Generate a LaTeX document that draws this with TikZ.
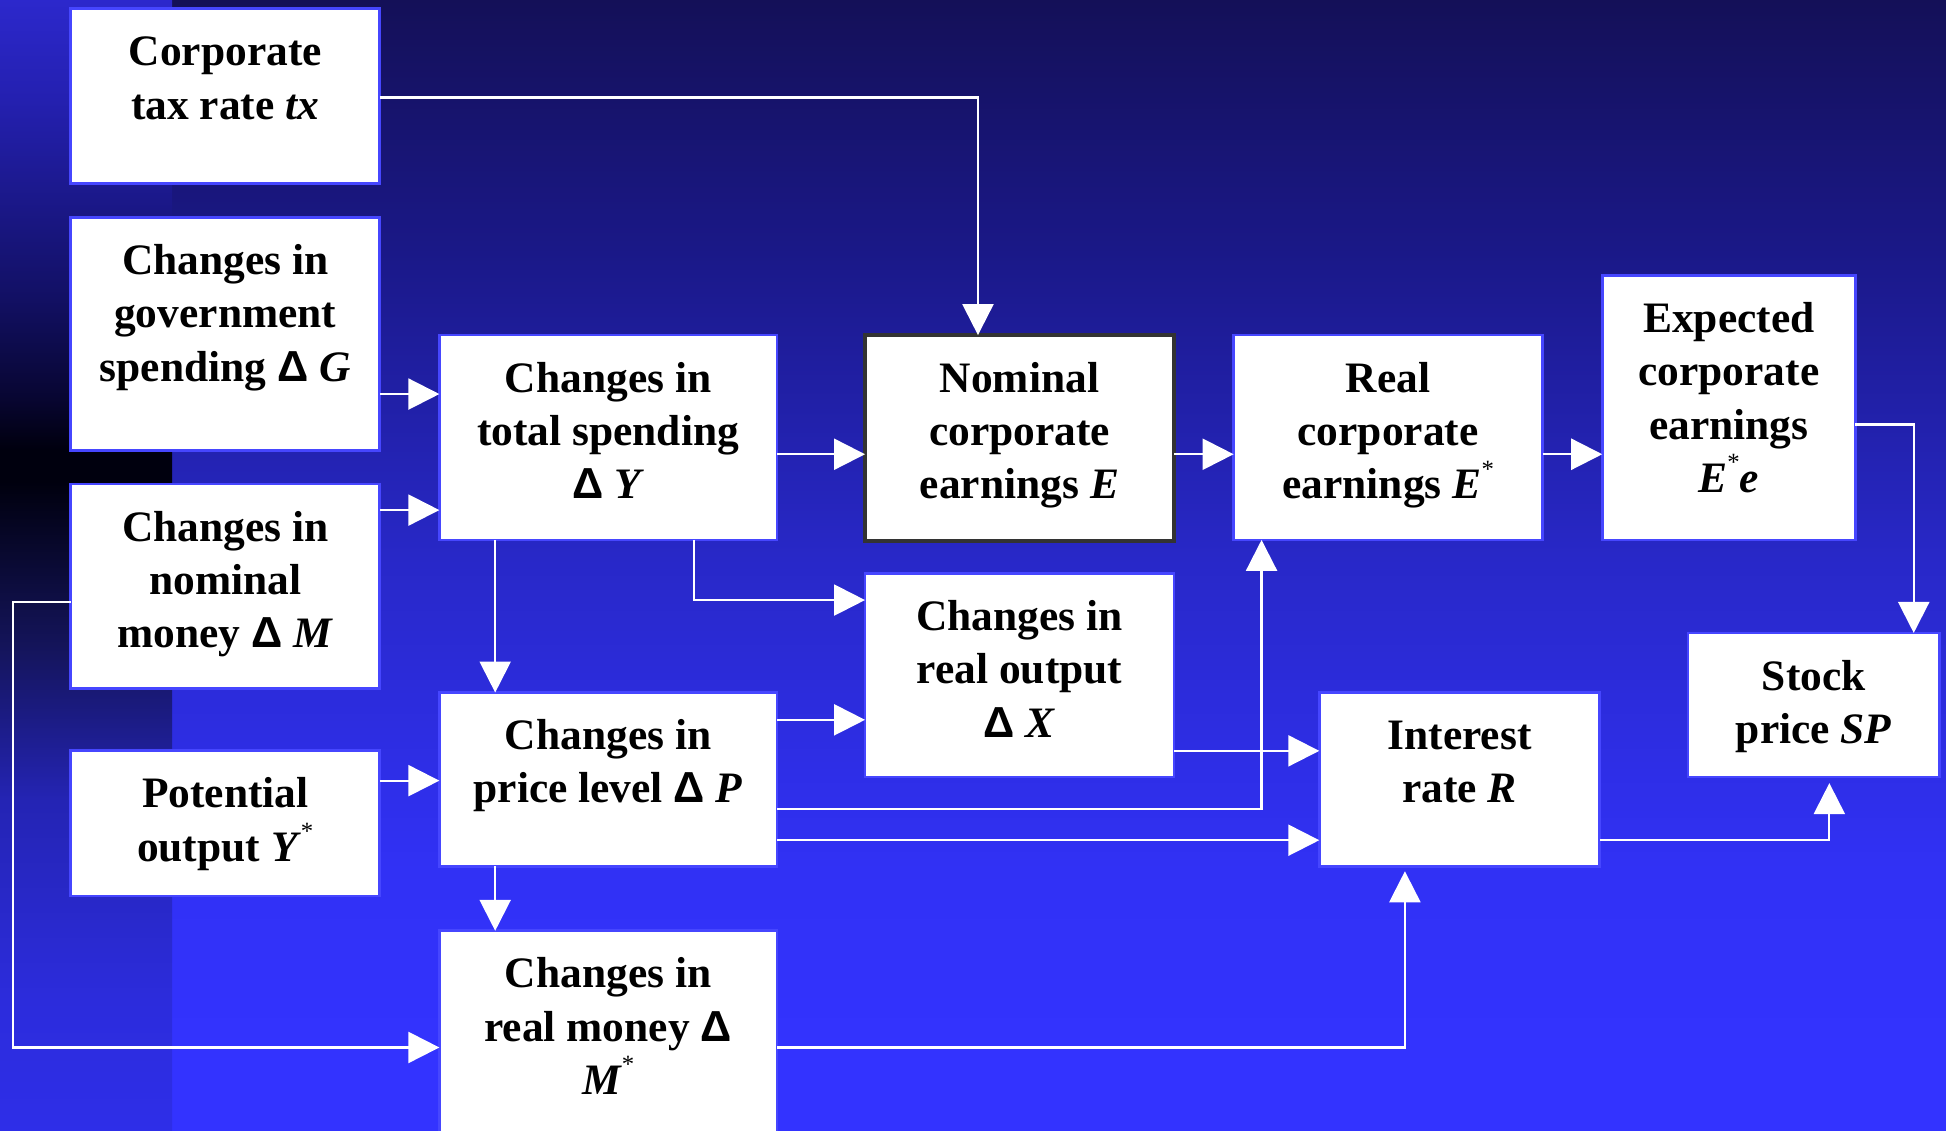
\documentclass[tikz,border=0pt]{standalone}
\usepackage{fontspec}
\setmainfont{Liberation Serif}
\newfontfamily\deltafont{Liberation Sans}
\usetikzlibrary{arrows.meta}
\newdimen\ppx \ppx=0.5pt
\newcommand{\bt}[3]{\parbox[c][#2\ppx][t]{#1\ppx}{\centering\rule{0pt}{23pt}#3}}
\newcommand{\D}{{\deltafont Δ}}
\newcommand{\sr}{\raisebox{0.5em}{\fontsize{10pt}{10pt}\selectfont\mdseries *}}
\newcommand{\boxfont}{\fontsize{17.5pt}{21.5pt}\selectfont\bfseries}
% background colours
\definecolor{m0}{RGB}{20,16,88}
\definecolor{m1}{RGB}{26,24,135}
\definecolor{m2}{RGB}{40,40,200}
\definecolor{m3}{RGB}{49,49,245}
\definecolor{m4}{RGB}{51,51,255}
\definecolor{s0}{RGB}{44,40,204}
\definecolor{s1}{RGB}{36,32,176}
\definecolor{s2}{RGB}{18,16,100}
\definecolor{s3}{RGB}{8,6,50}
\definecolor{s4}{RGB}{0,0,14}
\definecolor{s6}{RGB}{20,20,90}
\definecolor{s7}{RGB}{36,36,180}
\definecolor{s8}{RGB}{44,44,220}
\definecolor{s9}{RGB}{46,46,232}
\definecolor{boxblue}{RGB}{70,70,255}
\definecolor{darkedge}{RGB}{51,51,51}
\pgfdeclareverticalshading{mainbg}{100bp}{color(0bp)=(m4); color(25bp)=(m4); color(27.8bp)=(m4); color(36.58bp)=(m3); color(50.3bp)=(m2); color(64.02bp)=(m1); color(75bp)=(m0); color(100bp)=(m0)}
\pgfdeclareverticalshading{stripbg}{100bp}{color(0bp)=(s9); color(25bp)=(s9); color(30.76bp)=(s8); color(39.6bp)=(s7); color(46.46bp)=(s6); color(53.7bp)=(s4); color(55.13bp)=(s4); color(57.44bp)=(s3); color(61.83bp)=(s2); color(70.61bp)=(s1); color(75bp)=(s0); color(100bp)=(s0)}
\tikzset{
  box/.style={draw=boxblue, line width=1.1pt, fill=white, inner sep=0pt, outer sep=0pt, font=\boxfont, text=black},
  darkbox/.style={box, draw=darkedge, line width=1.4pt},
  conn/.style={draw=white, line width=0.9pt, -{Triangle[length=12.5pt,width=12.5pt]}},
}
\begin{document}
\begin{tikzpicture}[x=0.5pt, y=-0.5pt]
\useasboundingbox (0,0) rectangle (1568,911);
\clip (0,0) rectangle (1568,911);
\shade[shading=mainbg] (0,0) rectangle (1568,911);
\shade[shading=stripbg] (0,0) rectangle (138.6,911);

% boxes
\node[box] (A) at (181.5,77.5) {\bt{249}{141}{Corporate\\tax rate \textit{tx}}};
\node[box] (B) at (181.5,269) {\bt{249}{188}{Changes in\\government\\spending \D\ \textit{G}}};
\node[box] (C) at (181.5,472.5) {\bt{249}{165}{Changes in\\nominal\\money \D\ \textit{M}}};
\node[box] (D) at (181.5,663.5) {\bt{249}{117}{Potential\\output \textit{Y}\sr}};
\node[box] (E) at (490,352.5) {\bt{272}{165}{Changes in\\total spending\\\D\ \textit{Y}}};
\node[box] (F) at (490,628) {\bt{272}{140}{Changes in\\price level \D\ \textit{P}}};
\node[box] (G) at (490,855) {\bt{272}{210}{Changes in\\real money \D\\\textit{M}\sr}};
\node[darkbox] (H) at (821.5,353) {\bt{249}{166}{Nominal\\corporate\\earnings \textit{E}}};
\node[box] (I) at (821.5,544) {\bt{249}{164}{Changes in\\real output\\\D\ \textit{X}}};
\node[box] (J) at (1118.5,352.5) {\bt{249}{165}{Real\\corporate\\earnings \textit{E}\sr}};
\node[box] (K) at (1393,328.5) {\bt{204}{213}{Expected\\corporate\\earnings\\\textit{E}\sr\textit{e}}};
\node[box] (L) at (1176,628) {\bt{226}{140}{Interest\\rate \textit{R}}};
\node[box] (M) at (1461.5,568) {\bt{203}{116}{Stock\\price \textit{SP}}};

% routing coordinates
\coordinate (k1) at (788,78.5);
\coordinate (k2) at (0,317.5);
\coordinate (k3) at (0,411);
\coordinate (k4) at (0,629);
\coordinate (k5a) at (10.5,485);
\coordinate (k5b) at (10.5,844);
\coordinate (k6) at (399,0);
\coordinate (k7) at (559,483.5);
\coordinate (k8) at (0,366);
\coordinate (k9) at (0,580);
\coordinate (k10) at (1016.5,652);
\coordinate (k11) at (0,677);
\coordinate (k13) at (0,605);
\coordinate (k14) at (1132,844);
\coordinate (k17) at (1542,342);
\coordinate (k18) at (1474,677);

% connectors
\draw[conn] (A.east |- k1) -| (H.north -| k1);
\draw[conn] (B.east |- k2) -- (E.west |- k2);
\draw[conn] (C.east |- k3) -- (E.west |- k3);
\draw[conn] (D.east |- k4) -- (F.west |- k4);
\draw[conn] (C.west |- k5a) -- (k5a) -- (k5b) -- (G.west |- k5b);
\draw[conn] (E.south -| k6) -- (F.north -| k6);
\draw[conn] (E.south -| k7) |- (I.west |- k7);
\draw[conn] (E.east |- k8) -- (H.west |- k8);
\draw[conn] (F.east |- k9) -- (I.west |- k9);
\draw[conn] (F.east |- k10) -| (J.south -| k10);
\draw[conn] (F.east |- k11) -- (L.west |- k11);
\draw[conn] (F.south -| k6) -- (G.north -| k6);
\draw[conn] (I.east |- k13) -- (L.west |- k13);
\draw[conn, shorten >=2pt] (G.east |- k14) -| (L.south -| k14);
\draw[conn] (H.east |- k8) -- (J.west |- k8);
\draw[conn] (J.east |- k8) -- (K.west |- k8);
\draw[conn] (K.east |- k17) -| (M.north -| k17);
\draw[conn, shorten >=2.5pt] (L.east |- k18) -| (M.south -| k18);
\end{tikzpicture}
\end{document}
